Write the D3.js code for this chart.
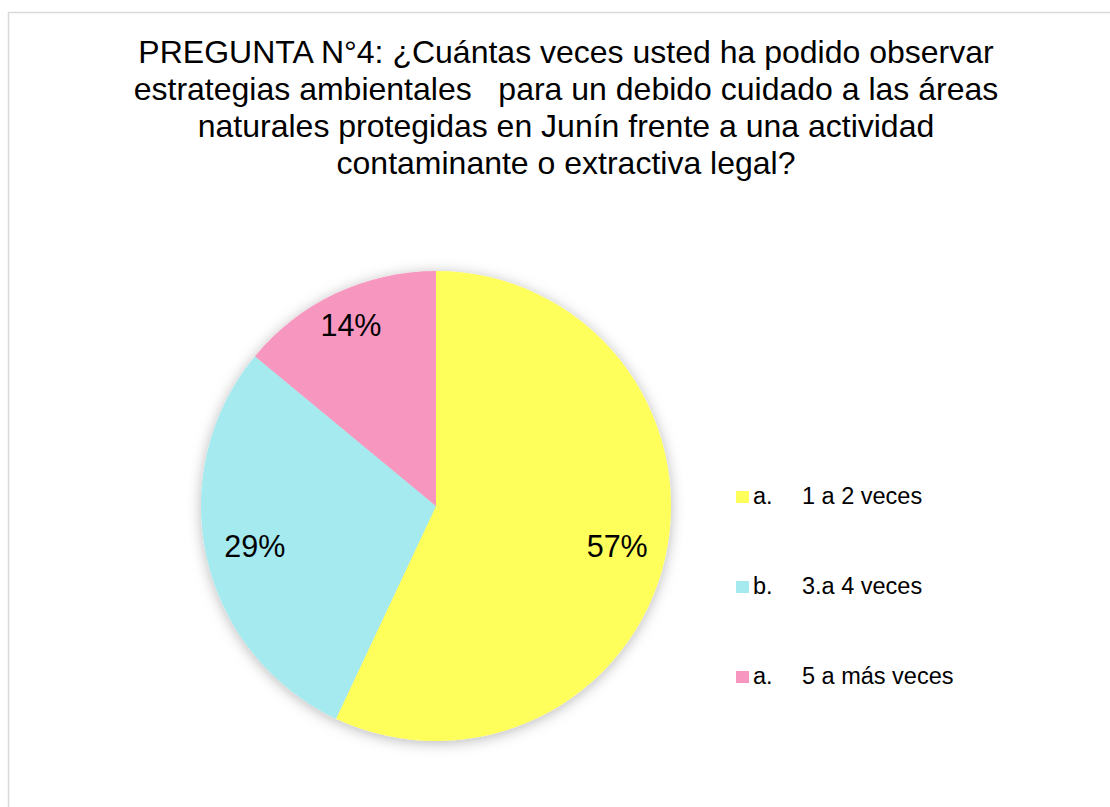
<!DOCTYPE html>
<html>
<head>
<meta charset="utf-8">
<script src="https://cdn.jsdelivr.net/npm/d3@7"></script>
<style>
  html, body { margin: 0; padding: 0; background: #fff; }
  svg { display: block; font-family: "Liberation Sans", Arial, sans-serif; }
</style>
</head>
<body>
<svg id="chart" width="1110" height="807"></svg>
<script>
// datos del gráfico
const titleLines = [
  "PREGUNTA N°4: ¿Cuántas veces usted ha podido observar",
  "estrategias ambientales   para un debido cuidado a las áreas",
  "naturales protegidas en Junín frente a una actividad",
  "contaminante o extractiva legal?"
]
const categories = ["a.", "b.", "a."]
const labels     = ["1 a 2 veces", "3.a 4 veces", "5 a más veces"]
const values     = [57, 29, 14]
const colors     = ["#ffff5c", "#a4eaef", "#f797bf"]

const W = 1110, H = 807
const cx = 436, cy = 506, R = 235

const svg = d3.select('#chart')
const defs = svg.append('defs')

// sombra suave alrededor del pastel
const f = defs.append('filter').attr('id', 'shadow')
  .attr('x', '-20%').attr('y', '-20%').attr('width', '140%').attr('height', '140%')
f.append('feDropShadow').attr('dx', 0).attr('dy', 2).attr('stdDeviation', 7)
  .attr('flood-color', '#000').attr('flood-opacity', 0.28)

// marco
svg.append('rect').attr('x', 8.5).attr('y', 12.5).attr('width', 1120).attr('height', 820)
  .attr('fill', '#fff').attr('stroke', '#d9d9d9').attr('stroke-width', 1.5)

// título
svg.append('g').selectAll('text').data(titleLines).join('text')
  .attr('x', 566).attr('y', (d, i) => 63 + i * 37)
  .attr('text-anchor', 'middle')
  .attr('font-size', 32).attr('fill', '#000')
  .style('white-space', 'pre')
  .text(d => d)

// pastel
const pie = d3.pie().sort(null).value(d => d)
const arcs = pie(values)
const arc = d3.arc().innerRadius(0).outerRadius(R)

const g = svg.append('g').attr('transform', `translate(${cx},${cy})`)
g.append('g').attr('filter', 'url(#shadow)')
  .selectAll('path').data(arcs).join('path')
  .attr('d', arc)
  .attr('fill', (d, i) => colors[i])

// etiquetas: la porción pequeña va un poco más afuera
const labelPos = d => {
  const r = (d.endAngle - d.startAngle) < 1 ? R * 0.85 : R * 0.79
  return d3.arc().innerRadius(r).outerRadius(r).centroid(d)
}
g.selectAll('text.pct').data(arcs).join('text')
  .attr('class', 'pct')
  .attr('transform', d => `translate(${labelPos(d)})`)
  .attr('text-anchor', 'middle')
  .attr('dy', '0.36em')
  .attr('font-size', 30.5).attr('fill', '#000')
  .text(d => d.data + '%')

// leyenda
const leg = svg.append('g').selectAll('g').data(labels).join('g')
  .attr('transform', (d, i) => `translate(736,${491 + i * 90})`)
leg.append('rect').attr('width', 13).attr('height', 12)
  .attr('fill', (d, i) => colors[i])
leg.append('text').attr('x', 17).attr('y', 13)
  .attr('font-size', 23.5).attr('fill', '#000')
  .text((d, i) => categories[i])
leg.append('text').attr('x', 66).attr('y', 13)
  .attr('font-size', 23.5).attr('fill', '#000')
  .text(d => d)
</script>
</body>
</html>
